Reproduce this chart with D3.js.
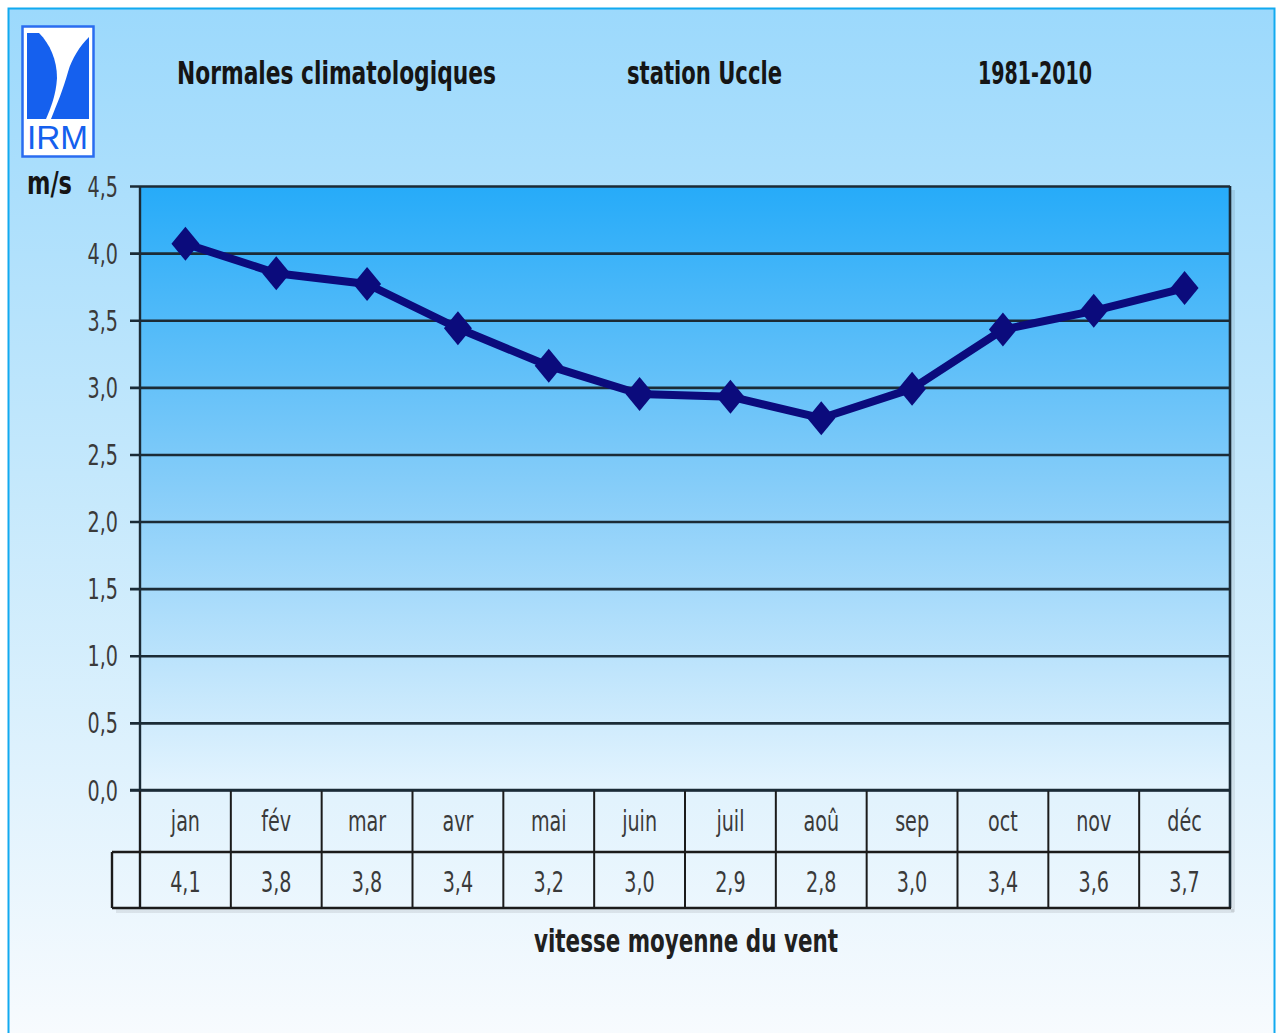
<!DOCTYPE html>
<html>
<head>
<meta charset="utf-8">
<script src="https://cdn.jsdelivr.net/npm/d3@7"></script>
<style>
html,body{margin:0;padding:0;background:#fff;}
svg{display:block;}
</style>
</head>
<body>
<svg id="chart" width="1277" height="1033"></svg>
<script>
// ---- data ----
const months = ["jan","fév","mar","avr","mai","juin","juil","aoû","sep","oct","nov","déc"];
const windSpeed = [4.07,3.85,3.77,3.44,3.16,2.95,2.93,2.77,2.99,3.43,3.57,3.74];
const tableLabels = ["4,1","3,8","3,8","3,4","3,2","3,0","2,9","2,8","3,0","3,4","3,6","3,7"];
const yTicks = [0,0.5,1,1.5,2,2.5,3,3.5,4,4.5];
const titleParts = ["Normales climatologiques","station Uccle","1981-2010"];
const yUnit = "m/s";
const xTitle = "vitesse moyenne du vent";

const W = 1277, H = 1033;
const plot = {left:140, right:1230, top:186, bottom:790};
const rowH1 = 62, rowH2 = 56;
const narrow = '"Liberation Sans Narrow","DejaVu Sans Condensed","Arial Narrow",sans-serif';
const SX = 0.76;

const svg = d3.select("#chart");
const defs = svg.append("defs");

const bg = defs.append("linearGradient").attr("id","bg").attr("x1",0).attr("y1",0).attr("x2",0).attr("y2",1);
bg.append("stop").attr("offset","0%").attr("stop-color","#9cd9fc");
bg.append("stop").attr("offset","45%").attr("stop-color","#c4e8fc");
bg.append("stop").attr("offset","100%").attr("stop-color","#f8fbfe");

const pg = defs.append("linearGradient").attr("id","pg").attr("x1",0).attr("y1",0).attr("x2",0).attr("y2",1);
pg.append("stop").attr("offset","0%").attr("stop-color","#26abf9");
pg.append("stop").attr("offset","50%").attr("stop-color","#86cdf9");
pg.append("stop").attr("offset","100%").attr("stop-color","#e4f4fe");

// page background + frame
svg.append("rect").attr("x",0).attr("y",0).attr("width",W).attr("height",H).attr("fill","#ffffff");
svg.append("rect").attr("x",8.5).attr("y",8.5).attr("width",1266).attr("height",H).attr("fill","url(#bg)")
  .attr("stroke","#12aaf0").attr("stroke-width",2);

// scales
const x = d3.scaleBand().domain(months).range([plot.left, plot.right]).padding(0);
const y = d3.scaleLinear().domain([0,4.5]).range([plot.bottom, plot.top]);

// subtle shadow (right and bottom edges)
const totalBottom = plot.bottom+rowH1+rowH2;
svg.append("rect").attr("x",plot.right+1).attr("y",plot.top+4).attr("width",4).attr("height",totalBottom-plot.top)
  .attr("fill","#000").attr("opacity",0.08);
svg.append("rect").attr("x",116).attr("y",totalBottom+1).attr("width",plot.right-112).attr("height",4)
  .attr("fill","#000").attr("opacity",0.08);

// plot area
svg.append("rect").attr("x",plot.left).attr("y",plot.top)
  .attr("width",plot.right-plot.left).attr("height",plot.bottom-plot.top)
  .attr("fill","url(#pg)");

// y axis with gridlines
const fmt = d => d3.format(".1f")(d).replace(".",",");
const tickLen = plot.right-130, pad = 12;
const yAxis = d3.axisLeft(y).tickValues(yTicks).tickSize(tickLen).tickPadding(pad).tickFormat(fmt);
const gy = svg.append("g").attr("transform",`translate(${plot.right},0)`).call(yAxis);
gy.select(".domain").remove();
gy.selectAll(".tick line").attr("stroke","#1b2b36").attr("stroke-width",2.6);
gy.selectAll(".tick text").attr("font-family",narrow).attr("font-size",28).attr("fill","#3a3a3a")
  .attr("x",0).attr("dy","0.36em").attr("transform",`translate(${-(tickLen+pad)},0) scale(${SX},1)`);

// vertical borders
svg.append("line").attr("x1",plot.left).attr("x2",plot.left).attr("y1",plot.top).attr("y2",totalBottom)
  .attr("stroke","#1b2b36").attr("stroke-width",2.4);
svg.append("line").attr("x1",plot.right).attr("x2",plot.right).attr("y1",plot.top).attr("y2",totalBottom)
  .attr("stroke","#1b2b36").attr("stroke-width",2.6);

// data table
const tbl = svg.append("g");
const tCol = tbl.selectAll("g.col").data(months).enter().append("g").attr("class","col");
tCol.append("line").attr("x1",d=>x(d)).attr("x2",d=>x(d))
  .attr("y1",plot.bottom).attr("y2",totalBottom).attr("stroke","#1b1b1b").attr("stroke-width",2);
tCol.append("text").attr("transform",d=>`translate(${x(d)+x.bandwidth()/2},${plot.bottom+rowH1/2}) scale(${SX},1)`)
  .attr("dy","0.36em").attr("text-anchor","middle").attr("font-family",narrow).attr("font-size",28)
  .attr("fill","#3a3a3a").text(d=>d);
tCol.append("text").attr("transform",d=>`translate(${x(d)+x.bandwidth()/2},${plot.bottom+rowH1+rowH2/2+2}) scale(${SX},1)`)
  .attr("dy","0.36em").attr("text-anchor","middle").attr("font-family",narrow).attr("font-size",28)
  .attr("fill","#3a3a3a").text((d,i)=>tableLabels[i]);
// row lines
tbl.append("line").attr("x1",112).attr("x2",plot.right).attr("y1",plot.bottom+rowH1).attr("y2",plot.bottom+rowH1)
  .attr("stroke","#1b1b1b").attr("stroke-width",2.4);
tbl.append("line").attr("x1",112).attr("x2",plot.right+1).attr("y1",totalBottom).attr("y2",totalBottom)
  .attr("stroke","#1b1b1b").attr("stroke-width",2.4);
tbl.append("line").attr("x1",112).attr("x2",112).attr("y1",plot.bottom+rowH1).attr("y2",totalBottom)
  .attr("stroke","#1b1b1b").attr("stroke-width",2.4);
// axis bottom line
svg.append("line").attr("x1",130).attr("x2",plot.right).attr("y1",plot.bottom).attr("y2",plot.bottom)
  .attr("stroke","#1b2b36").attr("stroke-width",2.6);

// line series
const cx = d => x(d)+x.bandwidth()/2;
const line = d3.line().x((d,i)=>cx(months[i])).y(d=>y(d));
svg.append("path").datum(windSpeed).attr("d",line).attr("fill","none")
  .attr("stroke","#0b0b7c").attr("stroke-width",8).attr("stroke-linejoin","round");
svg.selectAll("path.mk").data(windSpeed).enter().append("path").attr("class","mk")
  .attr("d","M0,-17L14,0L0,17L-14,0Z")
  .attr("transform",(d,i)=>`translate(${cx(months[i])},${y(d)})`)
  .attr("fill","#0b0b7c");

// titles
const titleX = [177, 627, 978];
const titleW = [319, 155, 114];
svg.selectAll("text.title").data(titleParts).enter().append("text").attr("class","title")
  .attr("x",(d,i)=>titleX[i]).attr("y",84).attr("font-family",narrow).attr("font-weight","bold")
  .attr("font-size",32).attr("fill","#151515")
  .attr("textLength",(d,i)=>titleW[i]).attr("lengthAdjust","spacingAndGlyphs").text(d=>d);
svg.append("text").attr("x",27).attr("y",194).attr("font-family",narrow).attr("font-weight","bold")
  .attr("font-size",32).attr("fill","#151515").attr("textLength",45).attr("lengthAdjust","spacingAndGlyphs").text(yUnit);
svg.append("text").attr("x",534).attr("y",952).attr("font-family",narrow).attr("font-weight","bold")
  .attr("font-size",32).attr("fill","#202020").attr("textLength",304).attr("lengthAdjust","spacingAndGlyphs").text(xTitle);

// logo
const logo = svg.append("g");
logo.append("rect").attr("x",22.5).attr("y",26.5).attr("width",71).attr("height",130).attr("fill","#fff")
  .attr("stroke","#2a6cf0").attr("stroke-width",2.5);
logo.append("rect").attr("x",27).attr("y",32).attr("width",62).attr("height",87).attr("fill","#fff");
logo.append("path").attr("d","M27,33 L39,33 C50,44 57,60 57,78 C56,95 51,107 46,119 L27,119 Z").attr("fill","#1560ee");
logo.append("path").attr("d","M89,37 C80,46 72,58 68,72 C63,90 57,104 51,119 L89,119 Z").attr("fill","#1560ee");
logo.append("text").attr("x",27).attr("y",149).attr("font-family","'Liberation Sans',Arial,sans-serif")
  .attr("font-size",33).attr("textLength",61).attr("lengthAdjust","spacingAndGlyphs").attr("fill","#1560ee").text("IRM");
</script>
</body>
</html>
